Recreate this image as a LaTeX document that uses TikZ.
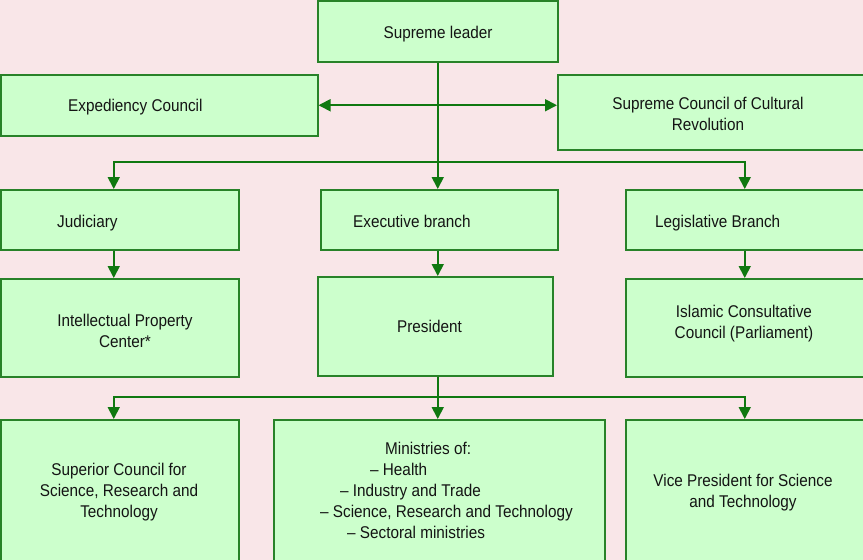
\documentclass[tikz,border=0pt]{standalone}
\usepackage{fontspec}
\setmainfont{Liberation Sans}[FakeStretch=0.9]
\usetikzlibrary{arrows.meta}
\definecolor{bg}{RGB}{249,230,232}
\definecolor{boxfill}{RGB}{204,255,204}
\definecolor{boxline}{RGB}{40,130,40}
\definecolor{arr}{RGB}{16,120,16}
\begin{document}
\begin{tikzpicture}[x=1pt,y=-1pt,
 box/.style={draw=boxline, fill=boxfill, line width=1.5pt, inner sep=0pt, anchor=north west},
 lbl/.style={font=\fontsize{17}{21}\selectfont, inner sep=0pt, align=center, text={rgb,255:red,20;green,20;blue,20}, anchor=base},
 conn/.style={draw=arr, line width=1.8pt, -{Triangle[length=12pt,width=12pt]}},
 dconn/.style={draw=arr, line width=1.8pt, {Triangle[length=12pt,width=12pt]}-{Triangle[length=12pt,width=12pt]}},
]
\fill[bg] (0,0) rectangle (863,560);
\useasboundingbox (0,0) rectangle (863,560);
% boxes
\node[box, minimum width=240pt, minimum height=61pt] (sl) at (317,0) {};
\node[box, minimum width=317pt, minimum height=61pt] (exp) at (0,74) {};
\node[box, minimum width=306pt, minimum height=75pt] (scc) at (557,74) {};
\node[box, minimum width=238pt, minimum height=60pt] (jud) at (0,189) {};
\node[box, minimum width=237pt, minimum height=60pt] (exe) at (320,189) {};
\node[box, minimum width=238pt, minimum height=60pt] (leg) at (625,189) {};
\node[box, minimum width=238pt, minimum height=98pt] (ipc) at (0,278) {};
\node[box, minimum width=235pt, minimum height=99pt] (pre) at (317,276) {};
\node[box, minimum width=238pt, minimum height=98pt] (ica) at (625,278) {};
\node[box, minimum width=238pt, minimum height=141pt] (sup) at (0,419) {};
\node[box, minimum width=331pt, minimum height=141pt] (min) at (273,419) {};
\node[box, minimum width=238pt, minimum height=141pt] (vp) at (625,419) {};
% labels (multi-line labels are placed by the baseline of their last line)
\node[lbl] (t1) at (438,38) {Supreme leader};
\node[lbl, anchor=base west] (t2) at (68,111) {Expediency Council};
\node[lbl] (t3) at (708,130) {Supreme Council of Cultural\\Revolution};
\node[lbl, anchor=base west] (t4) at (57,227) {Judiciary};
\node[lbl, anchor=base west] (t5) at (353,227) {Executive branch};
\node[lbl, anchor=base west] (t6) at (655,227) {Legislative Branch};
\node[lbl] (t7) at (125,347) {Intellectual Property\\Center*};
\node[lbl] (t8) at (429.5,332) {President};
\node[lbl] (t9) at (744,338) {Islamic Consultative\\Council (Parliament)};
\node[lbl] (t10) at (119,517) {Superior Council for\\Science, Research and\\Technology};
\node[lbl, align=left, anchor=base west] (t11) at (320,538) {\hspace*{65pt}Ministries of:\\\hspace*{50pt}– Health\\\hspace*{20pt}– Industry and Trade\\– Science, Research and Technology\\\hspace*{27pt}– Sectoral ministries};
\node[lbl] (t12) at (743,507) {Vice President for Science\\and Technology};
% connectors
\coordinate (j1) at (437,162);
\coordinate (j2) at (437,397);
\draw[conn] (sl.south) -- (sl.south |- exe.north);
\draw[dconn] (exp.east) -- (exp.east -| scc.west);
\draw[conn] (j1) -| ([xshift=-6pt]jud.north);
\draw[conn] (j1) -| (leg.north);
\draw[conn] ([xshift=-6pt]jud.south) -- ([xshift=-6pt]ipc.north);
\draw[conn] (sl.south |- exe.south) -- (sl.south |- pre.north);
\draw[conn] (leg.south) -- (ica.north);
\draw[conn] (sl.south |- pre.south) -- (sl.south |- min.north);
\draw[conn] (j2) -| ([xshift=-6pt]sup.north);
\draw[conn] (j2) -| (vp.north);
\end{tikzpicture}
\end{document}
